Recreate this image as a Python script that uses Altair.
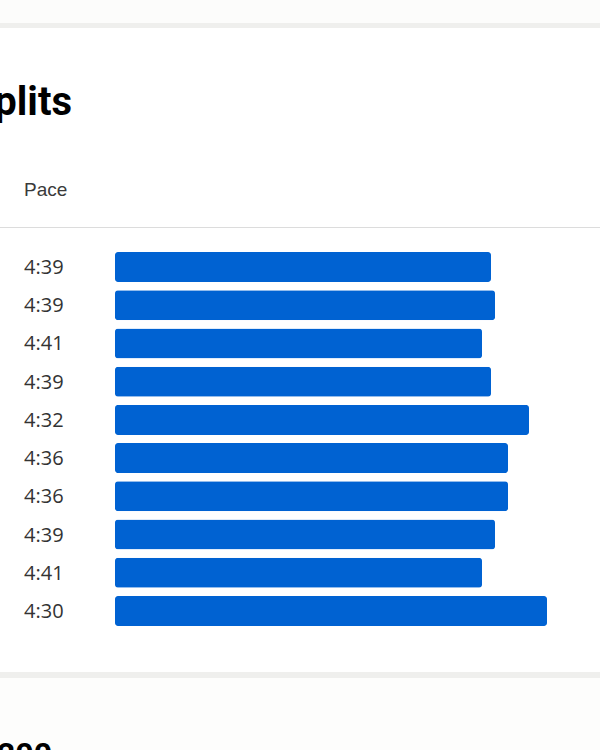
import altair as alt
import pandas as pd

# Data
rows = [1, 2, 3, 4, 5, 6, 7, 8, 9, 10]
paces = ["4:39", "4:39", "4:41", "4:39", "4:32", "4:36", "4:36", "4:39", "4:41", "4:30"]
bar_lengths = [376, 380, 367, 376, 414, 393, 393, 380, 367, 432]

df = pd.DataFrame({"row": rows, "pace": paces, "len": bar_lengths})
one = alt.Data(values=[{"a": 1}])

xs = alt.Scale(domain=[0, 485], range=[115, 600], padding=0)
ys = alt.Scale(domain=[1, 10], range=[267, 611], padding=0)

top_strip = alt.Chart(one).mark_rect(color="#fcfcfb").encode(
    x=alt.value(0), x2=alt.value(600), y=alt.value(0), y2=alt.value(23))
top_band = alt.Chart(one).mark_rect(color="#efefed").encode(
    x=alt.value(0), x2=alt.value(600), y=alt.value(23), y2=alt.value(28))
bot_band = alt.Chart(one).mark_rect(color="#efefed").encode(
    x=alt.value(0), x2=alt.value(600), y=alt.value(672), y2=alt.value(678))
bot_strip = alt.Chart(one).mark_rect(color="#fdfdfc").encode(
    x=alt.value(0), x2=alt.value(600), y=alt.value(678), y2=alt.value(750))
header_line = alt.Chart(one).mark_rule(color="#dcdcdc", strokeWidth=1).encode(
    x=alt.value(0), x2=alt.value(600), y=alt.value(227.5))

title = alt.Chart(one).mark_text(
    text="Splits", font="Roboto", fontSize=40, fontWeight="bold",
    align="right", baseline="alphabetic", color="#000000"
).encode(x=alt.value(72), y=alt.value(115))

pace_head = alt.Chart(one).mark_text(
    text="Pace", font="Liberation Sans", fontSize=19,
    align="left", baseline="alphabetic", color="#3a3a3a"
).encode(x=alt.value(24), y=alt.value(196))

bottom_text = alt.Chart(one).mark_text(
    text="200", font="Roboto", fontSize=32, fontWeight="bold",
    align="right", baseline="alphabetic", color="#000000"
).encode(x=alt.value(52), y=alt.value(765))

bars = alt.Chart(df).mark_bar(
    orient="horizontal", height=30, cornerRadius=3, color="#0062d2"
).encode(
    x=alt.X("len:Q", scale=xs, axis=None),
    y=alt.Y("row:Q", scale=ys, axis=None),
)

labels = alt.Chart(df).mark_text(
    align="left", baseline="middle", font="Open Sans", fontSize=20, color="#333333", dy=1
).encode(
    x=alt.value(24),
    y=alt.Y("row:Q", scale=ys, axis=None),
    text="pace:N",
)

chart = alt.layer(
    top_strip, top_band, bot_band, bot_strip, header_line,
    title, pace_head, bottom_text, bars, labels
).properties(
    width=600, height=750,
    autosize=alt.AutoSizeParams(type="none"),
    padding=0,
    background="white",
).configure_view(stroke=None)

chart.save("out.html", embed_options={"renderer": "svg", "actions": False})
